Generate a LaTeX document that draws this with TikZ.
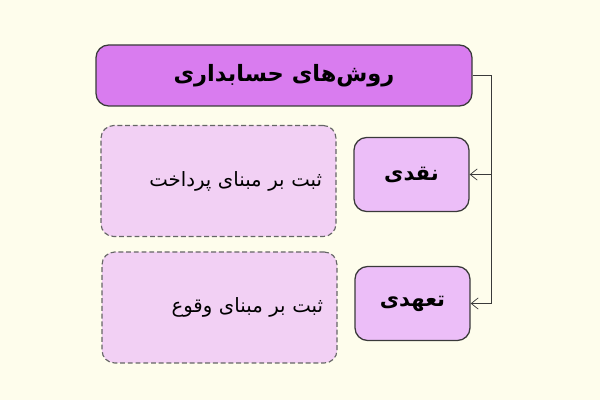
\documentclass[tikz,border=0pt]{standalone}
\usepackage{fontspec}
\newfontfamily\arabicfont[Script=Arabic]{DejaVu Sans}
\TeXXeTstate=1
\usetikzlibrary{arrows.meta}

\definecolor{paper}{HTML}{FEFDEC}
\definecolor{headfill}{HTML}{D97CEF}
\definecolor{kindfill}{HTML}{ECBEF8}
\definecolor{notefill}{HTML}{F2D0F4}
\definecolor{inkline}{HTML}{3A3A3A}

\tikzset{
  headbox/.style={draw=inkline,fill=headfill,line width=0.9pt,rounded corners=9pt,
    minimum width=376*0.025cm,minimum height=61*0.025cm,
    font=\arabicfont\bfseries\fontsize{16}{19}\selectfont},
  kindbox/.style={draw=inkline,fill=kindfill,line width=0.9pt,rounded corners=9pt,
    minimum width=115*0.025cm,minimum height=74*0.025cm,
    font=\arabicfont\bfseries\fontsize{15}{18}\selectfont},
  notebox/.style={draw=gray!80!black,fill=notefill,dash pattern=on 3.5pt off 2pt,line width=0.8pt,rounded corners=9pt,
    minimum width=235*0.025cm,minimum height=111*0.025cm,
    text width=235*0.025cm-28*0.025cm,align=right,
    font=\arabicfont\fontsize{14}{17}\selectfont},
  link/.style={draw=inkline,line width=0.5pt,-{Straight Barb[length=5pt,width=8pt]}}
}

\begin{document}
\begin{tikzpicture}[x=0.025cm,y=-0.025cm]
% Background
\fill[paper] (0,0) rectangle (600,400);
\useasboundingbox (0,0) rectangle (600,400);

% Title
\node[headbox] (methods) at (284,75.5) {\beginR روش‌های حسابداری\endR};

% Kinds
\node[kindbox] (cash) at (411.5,174.5) {\beginR نقدی\endR};
\node[kindbox] (accrual) at (412.5,303.5) {\beginR تعهدی\endR};

% Notes
\node[notebox] (cashnote) at (218.5,181) {\beginR ثبت بر مبنای پرداخت\endR};
\node[notebox] (accrualnote) at (219.5,307.5) {\beginR ثبت بر مبنای وقوع\endR};

% Links
\coordinate (trunk) at (491,75.5);
\draw[inkline,line width=0.5pt] (methods.east) -- (trunk);
\draw[link] (trunk) |- (cash.east);
\draw[link] (trunk) |- (accrual.east);

\end{tikzpicture}
\end{document}
